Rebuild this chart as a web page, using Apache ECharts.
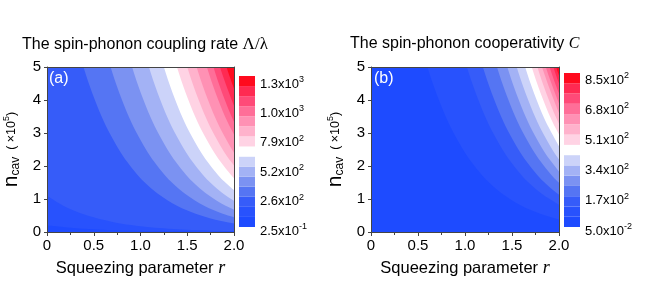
<!DOCTYPE html>
<html><head><meta charset="utf-8">
<script src="https://cdn.jsdelivr.net/npm/echarts@6/dist/echarts.min.js"></script>
<style>html,body{margin:0;padding:0;background:#fff}#c{width:654px;height:282px}</style>
</head><body><div id="c"></div>
<script>
// ---- data ----
const rTickLabels = ['0', '0.5', '1.0', '1.5', '2.0'];
const bandColors = ['#1e4bff', '#2852fd', '#365cf9', '#5575f3', '#7b92f2', '#a3b2f5', '#ccd3f9', '#ffffff',
  '#ffd3e4', '#ffb2cc', '#ff91b4', '#ff6e98', '#ff4a78', '#ff2a52', '#ff0a1e'];
const aBarLabels = [['2.5', '-1'], ['2.6', '2'], ['5.2', '2'], ['7.9', '2'], ['1.0', '3'], ['1.3', '3']];
const bBarLabels = [['5.0', '-2'], ['1.7', '2'], ['3.4', '2'], ['5.1', '2'], ['6.8', '2'], ['8.5', '2']];
// contour boundaries [r, n] of panel (a), from lowest level to highest
const aContours = [
  [[0, 0.2], [0.4, 0.1], [0.8, 0.046], [1.2, 0.022], [1.6, 0.011], [2, 0.005]],
  [[0, 1.1], [0.2, 0.76], [0.4, 0.53], [0.6, 0.37], [0.8, 0.25], [1, 0.175], [1.2, 0.12], [1.4, 0.084], [1.6, 0.058], [1.8, 0.04], [2, 0.028]],
  [[0.19, 7.22], [0.39, 5], [0.59, 3.46], [0.79, 2.4], [0.99, 1.66], [1.19, 1.15], [1.39, 0.795], [1.59, 0.55], [1.79, 0.381], [1.99, 0.264], [2.19, 0.183]],
  [[0.48, 7.22], [0.68, 5], [0.88, 3.46], [1.08, 2.4], [1.28, 1.66], [1.48, 1.15], [1.68, 0.795], [1.88, 0.55], [2.08, 0.381]],
  [[0.71, 7.22], [0.91, 5], [1.11, 3.46], [1.31, 2.4], [1.51, 1.66], [1.71, 1.15], [1.91, 0.795], [2.11, 0.55]],
  [[0.89, 7.22], [1.09, 5], [1.29, 3.46], [1.49, 2.4], [1.69, 1.66], [1.89, 1.15], [2.09, 0.795]],
  [[1.05, 7.22], [1.25, 5], [1.45, 3.46], [1.65, 2.4], [1.85, 1.66], [2.05, 1.15]],
  [[1.19, 7.22], [1.39, 5], [1.59, 3.46], [1.79, 2.4], [1.99, 1.66], [2.19, 1.15]],
  [[1.3, 7.22], [1.5, 5], [1.7, 3.46], [1.9, 2.4], [2.1, 1.66]],
  [[1.4, 7.22], [1.6, 5], [1.8, 3.46], [2.0, 2.4], [2.2, 1.66]],
  [[1.51, 7.22], [1.71, 5], [1.91, 3.46], [2.11, 2.4]],
  [[1.58, 7.22], [1.78, 5], [1.98, 3.46], [2.18, 2.4]],
  [[1.65, 7.22], [1.85, 5], [2.05, 3.46]],
  [[1.72, 7.22], [1.92, 5], [2.12, 3.46]]
];
// contour boundaries [r, n] of panel (b)
const bContours = [
  [[0.4, 7.22], [0.6, 5], [0.8, 3.46], [1.0, 2.4], [1.2, 1.66], [1.4, 1.15], [1.6, 0.795], [1.8, 0.55], [2.0, 0.381], [2.2, 0.264]],
  [[0.82, 7.22], [1.02, 5], [1.22, 3.46], [1.42, 2.4], [1.62, 1.66], [1.82, 1.15], [2.02, 0.795]],
  [[0.99, 7.22], [1.19, 5], [1.39, 3.46], [1.59, 2.4], [1.79, 1.66], [1.99, 1.15], [2.19, 0.795]],
  [[1.14, 7.22], [1.34, 5], [1.54, 3.46], [1.74, 2.4], [1.94, 1.66], [2.14, 1.15]],
  [[1.25, 7.22], [1.45, 5], [1.65, 3.46], [1.85, 2.4], [2.05, 1.66]],
  [[1.35, 7.22], [1.55, 5], [1.75, 3.46], [1.95, 2.4], [2.15, 1.66]],
  [[1.44, 7.22], [1.64, 5], [1.84, 3.46], [2.04, 2.4]],
  [[1.51, 7.22], [1.71, 5], [1.91, 3.46], [2.11, 2.4]],
  [[1.57, 7.22], [1.77, 5], [1.97, 3.46], [2.17, 2.4]],
  [[1.62, 7.22], [1.82, 5], [2.02, 3.46]],
  [[1.66, 7.22], [1.86, 5], [2.06, 3.46]],
  [[1.7, 7.22], [1.9, 5], [2.1, 3.46]],
  [[1.74, 7.22], [1.94, 5], [2.14, 3.46]],
  [[1.77, 7.22], [1.97, 5], [2.17, 3.46]]
];

// ---- layout ----
const FONT = 'Liberation Sans, Arial, sans-serif';
const panels = [
  { left: 46, cbLeft: 239, cbTop: 76, cbH: 151, lbTop: 84, lbH: 147, contours: aContours, labels: aBarLabels, tag: '(a)' },
  { left: 371, cbLeft: 564, cbTop: 73, cbH: 154, lbTop: 80, lbH: 151, contours: bContours, labels: bBarLabels, tag: '(b)' }
];
const grid = [], xAxis = [], yAxis = [], series = [], graphic = [];
panels.forEach((p, k) => {
  const g0 = grid.length;
  grid.push({ left: p.left, width: 188, top: 67, height: 167, show: true, backgroundColor: bandColors[0], borderWidth: 0 });
  grid.push({ left: p.cbLeft, width: 16, top: p.cbTop, height: p.cbH });
  grid.push({ left: p.cbLeft, width: 16, top: p.lbTop, height: p.lbH });
  const xi = xAxis.length, yi = yAxis.length;
  xAxis.push({
    gridIndex: g0, type: 'value', min: 0, max: 2, interval: 0.5, z: 5,
    axisLine: { show: true, lineStyle: { color: '#444', width: 1 } },
    axisTick: { show: true, length: 4, lineStyle: { color: '#444' } },
    minorTick: { show: true, splitNumber: 2, length: 3, lineStyle: { color: '#444' } },
    splitLine: { show: false },
    axisLabel: { margin: 6, fontSize: 15, color: '#000', fontFamily: FONT, formatter: v => rTickLabels[Math.round(v / 0.5)] },
    name: 'Squeezing parameter {i|r}', nameLocation: 'middle', nameGap: 27,
    nameTextStyle: { fontSize: 16.5, color: '#000', fontFamily: FONT, verticalAlign: 'top',
      rich: { i: { fontSize: 18, fontStyle: 'italic', fontFamily: 'Liberation Serif, serif', color: '#000' } } }
  });
  xAxis.push({ gridIndex: g0, type: 'value', min: 0, max: 2, position: 'top', z: 5,
    axisLine: { show: true, onZero: false, lineStyle: { color: '#444' } }, axisTick: { show: false }, axisLabel: { show: false }, splitLine: { show: false } });
  yAxis.push({
    gridIndex: g0, type: 'value', min: 0, max: 5, interval: 1, z: 5,
    axisLine: { show: true, lineStyle: { color: '#444' } },
    axisTick: { show: true, length: 3, lineStyle: { color: '#444' } },
    splitLine: { show: false },
    axisLabel: { margin: 6, fontSize: 15, color: '#000', fontFamily: FONT },
    name: '{n|n}{sub|cav}{s|  ( ×10}{sup|5}{s|)}', nameLocation: 'middle', nameRotate: 90, nameGap: 25,
    nameTextStyle: { color: '#000', fontFamily: FONT,
      rich: {
        n: { fontSize: 21, fontFamily: FONT, color: '#000' },
        sub: { fontSize: 12, fontFamily: FONT, color: '#000', padding: [9, 0, 0, 0] },
        s: { fontSize: 12.5, fontFamily: FONT, color: '#000' },
        sup: { fontSize: 9, fontFamily: FONT, color: '#000', padding: [0, 0, 9, 0] }
      } }
  });
  yAxis.push({ gridIndex: g0, type: 'value', min: 0, max: 5, position: 'right', z: 5,
    axisLine: { show: true, onZero: false, lineStyle: { color: '#444' } }, axisTick: { show: false }, axisLabel: { show: false }, splitLine: { show: false } });
  // colorbar axes
  xAxis.push({ gridIndex: g0 + 1, type: 'value', min: 0, max: 1, show: false });
  yAxis.push({ gridIndex: g0 + 1, type: 'category', data: bandColors.map((c, i) => i), show: false });
  xAxis.push({ gridIndex: g0 + 2, type: 'value', min: 0, max: 1, show: false });
  yAxis.push({ gridIndex: g0 + 2, type: 'value', min: 0, max: 15, interval: 3, position: 'right',
    axisLine: { show: false }, axisTick: { show: false }, splitLine: { show: false },
    axisLabel: { margin: 5, color: '#000', fontFamily: FONT,
      formatter: v => { const l = p.labels[Math.round(v / 3)]; return '{m|' + l[0] + 'x10}{sup|' + l[1] + '}'; },
      rich: { m: { fontSize: 13, fontFamily: FONT, color: '#000' }, sup: { fontSize: 9, fontFamily: FONT, color: '#000', padding: [0, 0, 9, 0] } } } });
  // contour fills
  p.contours.forEach((pts, i) => {
    series.push({ type: 'line', xAxisIndex: xi, yAxisIndex: yi, data: pts, smooth: 0.3, symbol: 'none', silent: true, z: 1,
      lineStyle: { width: 0 },
      areaStyle: { color: bandColors[i + 1], opacity: 1, origin: 'end' } });
  });
  // colorbar
  series.push({ type: 'bar', xAxisIndex: xi + 2, yAxisIndex: yi + 2, barWidth: '100%', silent: true,
    data: bandColors.map(c => ({ value: 1, itemStyle: { color: c } })) });
  graphic.push({ type: 'text', left: p.left + 3, top: 71, z: 10, style: { text: p.tag, fill: '#fff', fontSize: 16, fontFamily: FONT } });
});

const option = {
  animation: false,
  backgroundColor: '#fff',
  title: [
    { text: 'The spin-phonon coupling rate {g|Λ/λ}', left: 22, top: 36, padding: 0,
      textStyle: { fontSize: 16, fontWeight: 'normal', color: '#000', fontFamily: FONT,
        rich: { g: { fontSize: 17, fontFamily: 'Liberation Serif, serif', color: '#000' } } } },
    { text: 'The spin-phonon cooperativity {c|C}', left: 350, top: 36, padding: 0,
      textStyle: { fontSize: 16, fontWeight: 'normal', color: '#000', fontFamily: FONT,
        rich: { c: { fontSize: 16, fontStyle: 'italic', fontFamily: 'Liberation Serif, serif', color: '#000' } } } }
  ],
  grid, xAxis, yAxis, series, graphic
};
echarts.init(document.getElementById('c'), null, { renderer: 'canvas' }).setOption(option);
</script></body></html>
